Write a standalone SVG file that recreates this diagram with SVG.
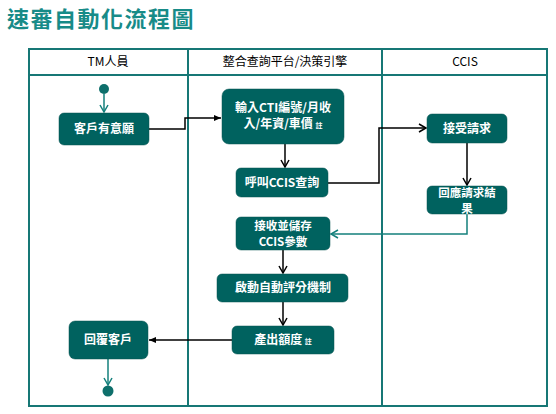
<svg xmlns="http://www.w3.org/2000/svg" width="556" height="414" viewBox="0 0 556 414">
<defs>
<marker id="ab" markerWidth="10" markerHeight="10" refX="8" refY="5" orient="auto" markerUnits="userSpaceOnUse"><path d="M1,1 L8,5 L1,9" fill="none" stroke="#000" stroke-width="1.5"/></marker>
<marker id="at" markerWidth="10" markerHeight="10" refX="8" refY="5" orient="auto" markerUnits="userSpaceOnUse"><path d="M1,1 L8,5 L1,9" fill="none" stroke="#14807C" stroke-width="1.5"/></marker>
<marker id="af" markerWidth="8" markerHeight="8" refX="7" refY="4" orient="auto" markerUnits="userSpaceOnUse"><path d="M0,1 L7,4 L0,7 Z" fill="#000"/></marker>
</defs>
<style>
.t{font-family:"Noto Sans CJK TC","Noto Sans CJK SC",sans-serif}
.h{font-size:12px;fill:#000;text-anchor:middle}
.n{fill:#00625F;stroke:#0b5552;stroke-width:0.5}
.nt{font-size:12px;fill:#fff;text-anchor:middle;font-weight:bold}
.sm{font-size:11.5px}
.s{font-size:7px}
.lb{fill:none;stroke:#000;stroke-width:1.5}
.lt{fill:none;stroke:#14807C;stroke-width:1.5}
.g{fill:none;stroke:#167775;stroke-width:2}
</style>
<rect width="556" height="414" fill="#fff"/>
<text class="t" x="7" y="27" font-size="22" fill="#178B88" font-weight="bold" letter-spacing="1.5">速審自動化流程圖</text>
<g id="lanes">
<rect class="g" x="29" y="49" width="518" height="357"/>
<line class="g" x1="29" y1="75" x2="547" y2="75"/>
<line class="g" x1="188" y1="49" x2="188" y2="406"/>
<line class="g" x1="382" y1="49" x2="382" y2="406"/>
<text class="t h" x="108" y="66">TM人員</text>
<text class="t h" x="285" y="66">整合查詢平台/決策引擎</text>
<text class="t h" x="465" y="66">CCIS</text>
</g>
<g id="connectors">
<line class="lt" x1="104" y1="94" x2="104" y2="112" marker-end="url(#at)"/>
<polyline class="lb" points="149,129 185,129 185,118 221,118" marker-end="url(#af)"/>
<line class="lb" x1="285" y1="144" x2="285" y2="167" marker-end="url(#ab)"/>
<polyline class="lb" points="328,183 379,183 379,128 426,128" marker-end="url(#ab)"/>
<line class="lb" x1="467" y1="143" x2="467" y2="185" marker-end="url(#ab)"/>
<polyline class="lt" points="467,214 467,234 331,234" marker-end="url(#at)"/>
<line class="lb" x1="283" y1="250" x2="283" y2="273" marker-end="url(#ab)"/>
<line class="lb" x1="283" y1="302" x2="283" y2="325" marker-end="url(#ab)"/>
<line class="lb" x1="232" y1="340" x2="149" y2="340" marker-end="url(#af)"/>
<line class="lt" x1="108" y1="359" x2="108" y2="385" marker-end="url(#at)"/>
</g>
<g id="start"><circle cx="104" cy="89" r="5" fill="#0E6F6B"/></g>
<g id="n1"><rect class="n" x="59" y="113" width="90" height="32" rx="5"/><text class="t nt" x="104" y="133">客戶有意願</text></g>
<g id="n2"><rect class="n" x="222" y="89" width="122" height="55" rx="7"/><text class="t nt" x="283" y="112">輸入CTI編號/月收</text><text class="t nt" x="283" y="128">入/年資/車價 <tspan class="s">註</tspan></text></g>
<g id="n3"><rect class="n" x="236" y="168" width="92" height="29" rx="5"/><text class="t nt" x="282" y="187">呼叫CCIS查詢</text></g>
<g id="n4"><rect class="n" x="427" y="114" width="80" height="29" rx="5"/><text class="t nt" x="467" y="133">接受請求</text></g>
<g id="n5"><rect class="n" x="427" y="186" width="80" height="28" rx="5"/><text class="t nt sm" x="467" y="197">回應請求結</text><text class="t nt sm" x="467" y="213">果</text></g>
<g id="n6"><rect class="n" x="236" y="217" width="94" height="33" rx="5"/><text class="t nt sm" x="283" y="230">接收並儲存</text><text class="t nt sm" x="283" y="246">CCIS參數</text></g>
<g id="n7"><rect class="n" x="217" y="274" width="131" height="28" rx="5"/><text class="t nt" x="283" y="292">啟動自動評分機制</text></g>
<g id="n8"><rect class="n" x="232" y="326" width="102" height="28" rx="5"/><text class="t nt" x="283" y="344">產出額度 <tspan class="s">註</tspan></text></g>
<g id="n9"><rect class="n" x="69" y="321" width="79" height="38" rx="6"/><text class="t nt" x="108" y="344">回覆客戶</text></g>
<g id="end"><circle cx="108" cy="391" r="5.5" fill="#0E6F6B"/></g>
</svg>
